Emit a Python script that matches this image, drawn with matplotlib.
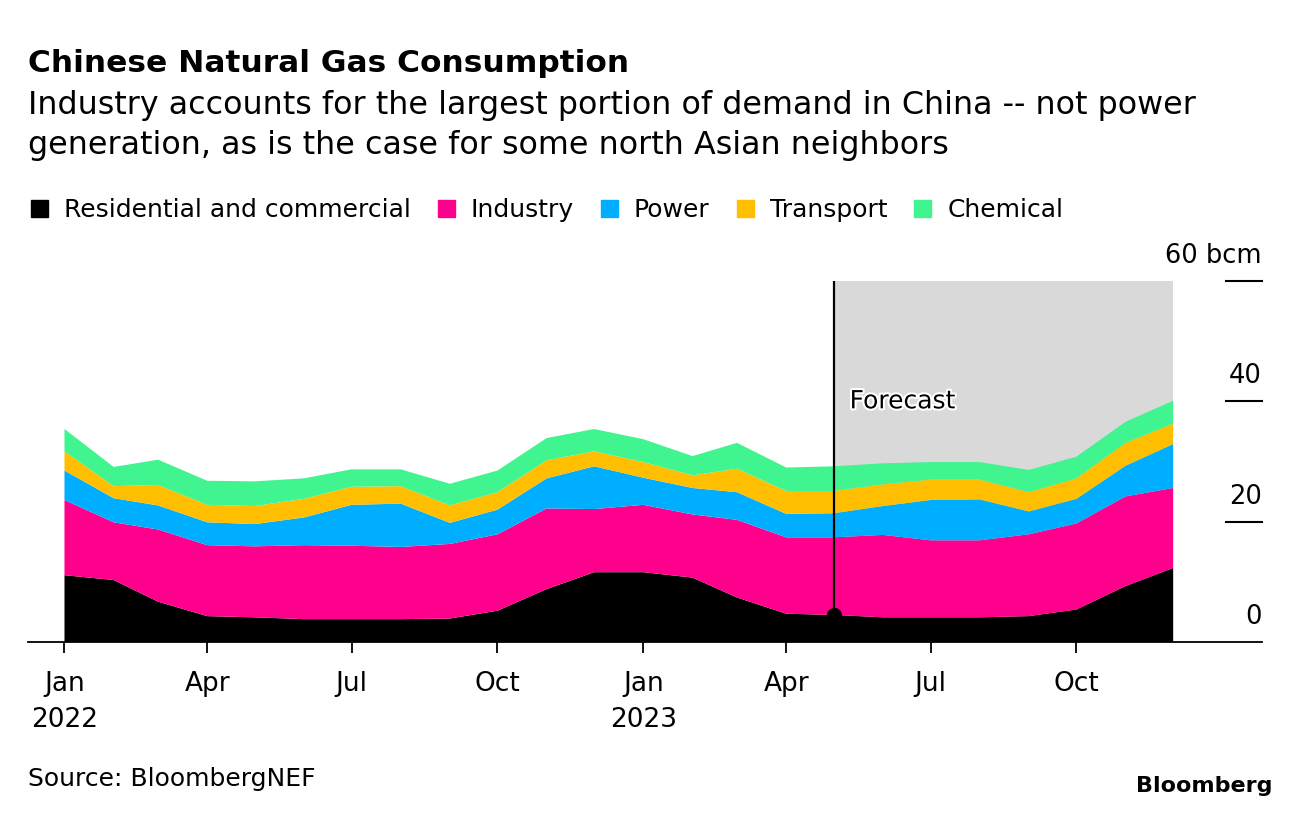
import matplotlib
matplotlib.use("Agg")
import matplotlib.pyplot as plt
import matplotlib.patheffects as pe
import matplotlib.transforms as mtransforms
from matplotlib.patches import Rectangle
import pandas as pd

# ---- data (bcm per month) ----
months = pd.date_range("2022-01-01", periods=24, freq="MS")

residential = [11.1, 10.3, 6.7, 4.3, 4.1, 3.8, 3.8, 3.8, 3.9, 5.2, 8.8, 11.6,
               11.6, 10.7, 7.4, 4.7, 4.5, 4.1, 4.1, 4.1, 4.3, 5.4, 9.3, 12.3]
industry = [12.5, 9.6, 12.0, 11.8, 11.8, 12.3, 12.2, 12.0, 12.4, 12.7, 13.4, 10.5,
            11.2, 10.5, 12.9, 12.7, 12.9, 13.7, 12.8, 12.8, 13.6, 14.3, 14.9, 13.3]
power = [4.9, 4.0, 4.0, 3.8, 3.7, 4.6, 6.8, 7.2, 3.5, 4.1, 5.0, 7.1,
         4.5, 4.4, 4.6, 3.9, 4.0, 4.8, 6.7, 6.8, 3.8, 4.1, 5.1, 7.3]
transport = [3.2, 2.0, 3.4, 2.9, 3.0, 3.1, 3.0, 2.9, 2.9, 2.9, 3.0, 2.5,
             2.6, 2.1, 3.9, 3.8, 3.7, 3.6, 3.4, 3.3, 3.2, 3.4, 3.8, 3.4]
chemical = [3.7, 3.2, 4.2, 4.0, 4.1, 3.4, 2.9, 2.8, 3.6, 3.6, 3.7, 3.7,
            3.8, 3.2, 4.3, 3.9, 4.1, 3.5, 2.9, 2.9, 3.7, 3.6, 3.5, 3.8]

series_names = ["Residential and commercial", "Industry", "Power", "Transport", "Chemical"]
colors = ["#000000", "#ff008c", "#00aeff", "#ffbf00", "#40f490"]

forecast_start = pd.Timestamp("2023-05-01")

tick_dates = pd.to_datetime(["2022-01-01", "2022-04-01", "2022-07-01", "2022-10-01",
                             "2023-01-01", "2023-04-01", "2023-07-01", "2023-10-01"])
tick_labels = ["Jan\n2022", "Apr", "Jul", "Oct", "Jan\n2023", "Apr", "Jul", "Oct"]

y_ticks = [0, 20, 40, 60]
y_labels = ["0", "20", "40", "60 bcm"]

# ---- figure ----
W, H = 1296, 818
plt.rcParams["font.family"] = ["DejaVu Sans"]

fig = plt.figure(figsize=(W / 100, H / 100), dpi=100)
ax = fig.add_axes([28 / W, 1 - 642 / H, 1234 / W, 361 / H])

ax.axvspan(forecast_start, months[-1], color="#d9d9d9", lw=0, zorder=0)
ax.stackplot(months, residential, industry, power, transport, chemical,
             colors=colors, lw=0, zorder=1)
ax.axvline(forecast_start, color="black", lw=1.6, zorder=3)
i_fc = list(months).index(forecast_start)
ax.plot([forecast_start], [residential[i_fc]], "o", color="black", ms=10, zorder=4)

ax.text(forecast_start + pd.Timedelta(days=10), 40, "Forecast", fontsize=18,
        va="center", ha="left", zorder=5,
        path_effects=[pe.withStroke(linewidth=3, foreground="white")])

ax.set_ylim(0, 60)
ax.set_xlim(months[0] - pd.Timedelta(days=23), months[0] + pd.Timedelta(days=755))

for s in ["top", "left", "right"]:
    ax.spines[s].set_visible(False)
ax.spines["bottom"].set_linewidth(1.3)
ax.spines["bottom"].set_zorder(6)

ax.set_xticks(tick_dates)
ax.set_xticklabels(tick_labels)
ax.tick_params(axis="x", direction="out", length=8, width=1.3, pad=13, labelsize=19)
for lbl in ax.get_xticklabels():
    lbl.set_linespacing(1.5)
ax.set_yticks([])

# right-hand value labels sitting above short rules
ytr = ax.get_yaxis_transform()
lab_tr = mtransforms.offset_copy(ytr, fig=fig, x=0, y=18, units="dots")
for v, lab in zip(y_ticks, y_labels):
    if v > 0:
        ax.plot([1 - 36 / 1234, 1], [v, v], color="black", lw=1.5,
                transform=ytr, clip_on=False)
    ax.text(1, v, lab, transform=lab_tr, ha="right", va="baseline", fontsize=18.5)

# ---- titles ----
def fx(px):
    return px / W

def fy(py):
    return 1 - py / H

fig.text(fx(28), fy(72), "Chinese Natural Gas Consumption", fontsize=22.5,
         fontweight="bold", va="baseline")
fig.text(fx(28), fy(114), "Industry accounts for the largest portion of demand in China -- not power",
         fontsize=22.9, va="baseline")
fig.text(fx(28), fy(154), "generation, as is the case for some north Asian neighbors",
         fontsize=22.9, va="baseline")

# ---- legend ----
renderer = fig.canvas.get_renderer()
x = 31
for name, c in zip(series_names, colors):
    fig.patches.append(Rectangle((fx(x), fy(217)), 17 / W, 17 / H, color=c,
                                 transform=fig.transFigure, figure=fig))
    t = fig.text(fx(x + 33), fy(217), name, fontsize=18, va="baseline")
    x = x + 33 + t.get_window_extent(renderer).width + 27

# ---- footer ----
fig.text(fx(28), fy(786), "Source: BloombergNEF", fontsize=18, va="baseline")
fig.text(fx(1272), fy(792), "Bloomberg", fontsize=16, fontweight="bold",
         va="baseline", ha="right")

fig.savefig("out.png", dpi=100)
